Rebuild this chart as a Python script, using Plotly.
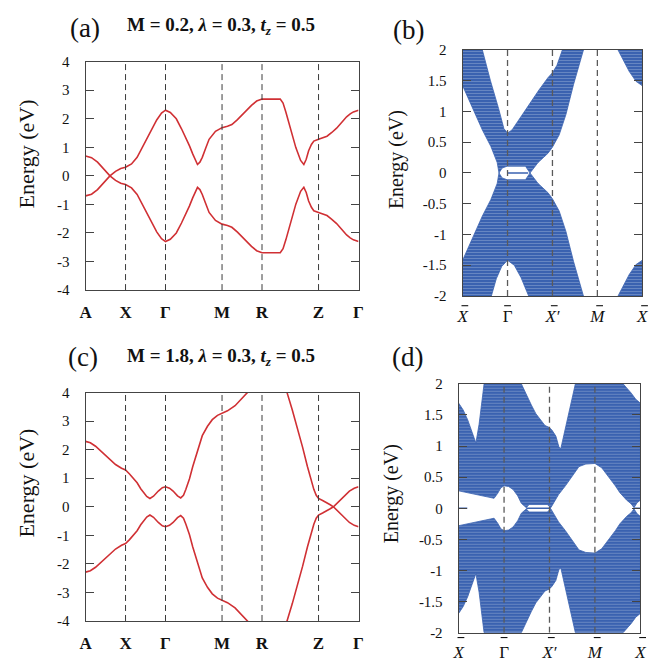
import plotly.graph_objects as go

# ---------------- bulk band structure: high-symmetry path ----------------
PATH_TICKS = [0, 1, 2, 3.414, 4.414, 5.828, 6.828]
PATH_LABELS = ["A", "X", "Γ", "M", "R", "Z", "Γ"]

# (a) M = 0.2 : the two bands along A-X-Γ-M-R-Z-Γ
A_K = [0.00, 0.15, 0.30, 0.45, 0.61, 0.75, 0.88, 1.00, 1.15, 1.29, 1.40, 1.53, 1.65, 1.78,
       1.90, 2.00, 2.12, 2.27, 2.40, 2.51, 2.60, 2.68, 2.74, 2.80, 2.86, 2.92, 3.00, 3.09,
       3.25, 3.414, 3.55, 3.66, 3.80, 3.91, 4.03, 4.15, 4.28, 4.414, 4.87, 4.94, 5.01, 5.13,
       5.26, 5.38, 5.46, 5.52, 5.58, 5.65, 5.71, 5.828, 5.95, 6.04, 6.16, 6.28, 6.40, 6.53,
       6.62, 6.70, 6.828]
A_BAND1 = [-0.70, -0.64, -0.48, -0.25, 0.00, 0.16, 0.26, 0.30, 0.42, 0.65, 0.95, 1.33, 1.65,
           1.96, 2.20, 2.30, 2.22, 2.00, 1.65, 1.33, 1.05, 0.77, 0.55, 0.40, 0.48, 0.65, 0.95,
           1.28, 1.56, 1.69, 1.74, 1.80, 1.97, 2.13, 2.30, 2.47, 2.62, 2.69, 2.69, 2.55, 2.24,
           1.67, 0.99, 0.54, 0.40, 0.58, 0.88, 1.10, 1.22, 1.28, 1.34, 1.39, 1.52, 1.67, 1.86,
           2.07, 2.17, 2.24, 2.30]
A_BAND2 = [0.70, 0.64, 0.48, 0.25, 0.00, -0.16, -0.26, -0.30, -0.42, -0.65, -0.95, -1.33, -1.65,
           -1.96, -2.20, -2.30, -2.22, -2.00, -1.65, -1.33, -1.05, -0.77, -0.55, -0.40, -0.48,
           -0.65, -0.95, -1.28, -1.56, -1.69, -1.74, -1.80, -1.97, -2.13, -2.30, -2.47, -2.62,
           -2.69, -2.69, -2.55, -2.24, -1.67, -0.99, -0.54, -0.40, -0.58, -0.88, -1.10, -1.22,
           -1.28, -1.34, -1.39, -1.52, -1.67, -1.86, -2.07, -2.17, -2.24, -2.30]

# (c) M = 1.8
C_K = [0.00, 0.12, 0.25, 0.50, 0.75, 0.90, 1.00, 1.10, 1.20, 1.29, 1.38, 1.45, 1.53, 1.61,
       1.70, 1.82, 1.92, 2.00, 2.10, 2.19, 2.30, 2.38, 2.45, 2.51, 2.60, 2.68, 2.80, 2.92,
       3.05, 3.17, 3.30, 3.414, 3.55, 3.74, 3.90, 4.05, 4.25, 4.414, 4.70, 4.85, 5.04, 5.17,
       5.30, 5.43, 5.55, 5.63, 5.71, 5.77, 5.828, 5.93, 6.03, 6.12, 6.20, 6.33, 6.45, 6.60,
       6.72, 6.828]
C_BAND1 = [2.29, 2.24, 2.12, 1.80, 1.48, 1.35, 1.29, 1.15, 0.98, 0.84, 0.63, 0.49, 0.36, 0.29,
           0.37, 0.55, 0.67, 0.70, 0.65, 0.55, 0.38, 0.31, 0.40, 0.61, 0.98, 1.40, 1.97, 2.49,
           2.82, 3.05, 3.20, 3.28, 3.36, 3.54, 3.77, 4.00, 4.30, 4.45, 4.45, 4.30, 4.00, 3.40,
           2.77, 2.08, 1.41, 1.00, 0.61, 0.40, 0.29, 0.22, 0.15, 0.07, 0.00, -0.18, -0.36,
           -0.55, -0.65, -0.70]
C_BAND2 = [-2.29, -2.24, -2.12, -1.80, -1.48, -1.35, -1.29, -1.15, -0.98, -0.84, -0.63, -0.49,
           -0.36, -0.29, -0.37, -0.55, -0.67, -0.70, -0.65, -0.55, -0.38, -0.31, -0.40, -0.61,
           -0.98, -1.40, -1.97, -2.49, -2.82, -3.05, -3.20, -3.28, -3.36, -3.54, -3.77, -4.00,
           -4.30, -4.45, -4.45, -4.30, -4.00, -3.40, -2.77, -2.08, -1.41, -1.00, -0.61, -0.40,
           -0.29, -0.22, -0.15, -0.07, 0.00, 0.18, 0.36, 0.55, 0.65, 0.70]

# ---------------- slab spectra: surface Brillouin zone path ----------------
SLAB_TICKS = [0, 1, 2, 3, 4]
SLAB_LABELS = ["<i>X</i>", "Γ", "<i>X′</i>", "<i>M</i>", "<i>X</i>"]

# (b) outlines of the continuum regions (k, E)
B_COND_K = [0.00, 0.20, 0.44, 0.63, 0.77, 0.81, 0.88, 0.99, 1.40, 1.50, 1.68, 1.90, 2.00, 2.15,
            2.30, 2.47, 2.69, 2.22, 2.10, 2.00, 1.90, 1.70, 1.45, 1.25, 1.10, 1.00, 0.92, 0.80,
            0.62, 0.44, 0.00]
B_COND_E = [1.42, 1.10, 0.70, 0.43, 0.17, 0.00, 0.08, 0.11, 0.11, 0.00, 0.17, 0.32, 0.42, 0.62,
            0.95, 1.44, 2.00, 2.00, 1.75, 1.63, 1.55, 1.35, 1.08, 0.85, 0.70, 0.65, 0.72, 1.05,
            1.50, 2.00, 2.00]
B_VAL_K = [0.00, 0.20, 0.44, 0.63, 0.77, 0.81, 0.88, 0.99, 1.40, 1.50, 1.68, 1.90, 2.00, 2.15,
           2.30, 2.47, 2.69, 1.47, 1.30, 1.15, 1.00, 0.87, 0.75, 0.64, 0.00]
B_VAL_E = [-1.42, -1.10, -0.70, -0.43, -0.17, 0.00, -0.08, -0.11, -0.11, 0.00, -0.17, -0.32,
           -0.42, -0.62, -0.95, -1.44, -2.00, -2.00, -1.70, -1.50, -1.42, -1.52, -1.72, -2.00,
           -2.00]
B_RIGHT_UP_K = [3.46, 3.60, 3.71, 3.86, 4.00, 4.00]
B_RIGHT_UP_E = [2.00, 1.80, 1.65, 1.49, 1.42, 2.00]
B_RIGHT_DN_K = [3.46, 3.60, 3.71, 3.86, 4.00, 4.00]
B_RIGHT_DN_E = [-2.00, -1.80, -1.65, -1.49, -1.42, -2.00]
B_SURF_K = [0.99, 1.46]
B_SURF_E = [0.0, 0.0]

# (d) outlines of the continuum regions (k, E)
D_UP_K = [0.00, 0.20, 0.37, 0.55, 0.66, 0.78, 0.86, 0.93, 1.00, 1.10, 1.20, 1.30, 1.38, 1.49,
          1.55, 1.95, 2.03, 2.12, 2.20, 2.35, 2.45, 2.55, 2.65, 2.80, 3.00, 3.15, 3.30, 3.45,
          3.55, 3.70, 3.80, 3.86, 3.93, 4.00,
          4.00, 3.90, 3.80, 3.70, 3.62, 2.57, 2.50, 2.39, 2.30, 2.25, 2.21, 2.14, 2.05, 1.99,
          1.90, 1.82, 1.70, 1.60, 1.48, 1.38, 0.56, 0.50, 0.45, 0.38, 0.30, 0.20, 0.10, 0.00]
D_UP_E = [0.28, 0.25, 0.22, 0.19, 0.17, 0.16, 0.24, 0.33, 0.36, 0.35, 0.30, 0.20, 0.08, 0.01,
          0.06, 0.06, 0.01, 0.12, 0.22, 0.36, 0.46, 0.58, 0.67, 0.71, 0.72, 0.65, 0.51, 0.36,
          0.25, 0.13, 0.07, 0.01, 0.09, 0.13,
          1.69, 1.75, 1.85, 1.93, 2.00, 2.00, 1.77, 1.40, 1.12, 0.96, 0.98, 1.16, 1.26, 1.30,
          1.33, 1.40, 1.52, 1.66, 1.84, 2.00, 2.00, 1.65, 1.35, 1.05, 1.22, 1.42, 1.58, 1.69]
D_DN_K = [0.00, 0.20, 0.37, 0.55, 0.66, 0.78, 0.86, 0.93, 1.00, 1.10, 1.20, 1.30, 1.38, 1.49,
          1.55, 1.95, 2.03, 2.12, 2.20, 2.35, 2.45, 2.55, 2.65, 2.80, 3.00, 3.15, 3.30, 3.45,
          3.55, 3.70, 3.80, 3.86, 3.93, 4.00,
          4.00, 3.90, 3.80, 3.70, 3.62, 2.57, 2.50, 2.39, 2.30, 2.25, 2.21, 2.14, 2.05, 1.99,
          1.90, 1.82, 1.70, 1.60, 1.48, 1.38, 0.56, 0.50, 0.45, 0.38, 0.30, 0.20, 0.10, 0.00]
D_DN_E = [-0.28, -0.25, -0.22, -0.19, -0.17, -0.16, -0.24, -0.33, -0.36, -0.35, -0.30, -0.20,
          -0.08, -0.01, -0.06, -0.06, -0.01, -0.12, -0.22, -0.36, -0.46, -0.58, -0.67, -0.71,
          -0.72, -0.65, -0.51, -0.36, -0.25, -0.13, -0.07, -0.01, -0.09, -0.13,
          -1.69, -1.75, -1.85, -1.93, -2.00, -2.00, -1.77, -1.40, -1.12, -0.96, -0.98, -1.16,
          -1.26, -1.30, -1.33, -1.40, -1.52, -1.66, -1.84, -2.00, -2.00, -1.65, -1.35, -1.05,
          -1.22, -1.42, -1.58, -1.69]
D_SURF_SEGMENTS = [([0.00, 0.19], [0.0, 0.0]), ([1.49, 2.03], [0.0, 0.0]), ([3.86, 4.00], [0.0, 0.0])]

# ---------------- styling ----------------
SERIF = "Liberation Serif, Times New Roman, Times, serif"
RED = "rgb(208,48,52)"
BLUE = "rgb(58,98,176)"
FRAME = "#444444"

DOM_A_X, DOM_A_Y = [0.1222, 0.5415], [0.5680, 0.9178]
DOM_B_X, DOM_B_Y = [0.7014, 0.9774], [0.5590, 0.9357]
DOM_C_X, DOM_C_Y = [0.1222, 0.5415], [0.0613, 0.4111]
DOM_D_X, DOM_D_Y = [0.6953, 0.9744], [0.0433, 0.4245]

fig = go.Figure()

def red_band(k, e, xa, ya):
    fig.add_trace(go.Scatter(x=k, y=e, mode="lines", xaxis=xa, yaxis=ya,
                             line=dict(color=RED, width=1.6), hoverinfo="skip", showlegend=False))

def region(k, e, xa, ya):
    # densely stacked slab subbands, rendered as a finely striped fill
    fig.add_trace(go.Scatter(x=k, y=e, mode="lines", fill="toself", xaxis=xa, yaxis=ya,
                             fillcolor=BLUE,
                             fillpattern=dict(shape="-", bgcolor=BLUE, fgcolor="white",
                                              fgopacity=0.25, size=3, solidity=0.3),
                             line=dict(color=BLUE, width=0.8),
                             hoverinfo="skip", showlegend=False))

def surface(k, e, xa, ya):
    fig.add_trace(go.Scatter(x=k, y=e, mode="lines", xaxis=xa, yaxis=ya,
                             line=dict(color=BLUE, width=1.5), hoverinfo="skip", showlegend=False))

red_band(A_K, A_BAND1, "x", "y")
red_band(A_K, A_BAND2, "x", "y")
red_band(C_K, C_BAND1, "x3", "y3")
red_band(C_K, C_BAND2, "x3", "y3")

region(B_COND_K, B_COND_E, "x2", "y2")
region(B_VAL_K, B_VAL_E, "x2", "y2")
region(B_RIGHT_UP_K, B_RIGHT_UP_E, "x2", "y2")
region(B_RIGHT_DN_K, B_RIGHT_DN_E, "x2", "y2")
surface(B_SURF_K, B_SURF_E, "x2", "y2")

region(D_UP_K, D_UP_E, "x4", "y4")
region(D_DN_K, D_DN_E, "x4", "y4")
for sk, se in D_SURF_SEGMENTS:
    surface(sk, se, "x4", "y4")

# dashed guides at the interior high-symmetry points
shapes = []
for kv in PATH_TICKS[1:-1]:
    for xr, yr in (("x", "y"), ("x3", "y3")):
        shapes.append(dict(type="line", xref=xr, yref=yr, x0=kv, x1=kv, y0=-4, y1=4,
                           line=dict(color="#3a3a3a", width=1, dash="6px,4px"), layer="above"))
for kv in SLAB_TICKS[1:-1]:
    for xr, yr in (("x2", "y2"), ("x4", "y4")):
        shapes.append(dict(type="line", xref=xr, yref=yr, x0=kv, x1=kv, y0=-2, y1=2,
                           line=dict(color="#5a5a5a", width=1.3, dash="6px,4px"), layer="above"))

# macron bars over the surface-zone labels (placed through each panel's x domain)
BAR_SHIFT = [0.05, 0.0, 0.04, 0.05, 0.05]
BAR_HALF = 0.075
for dom, ybar in ((DOM_B_X, 0.5441), (DOM_D_X, 0.0359)):
    span = dom[1] - dom[0]
    for kv, sh in zip(SLAB_TICKS, BAR_SHIFT):
        xa = dom[0] + (kv + sh - BAR_HALF) / 4 * span
        xb = dom[0] + (kv + sh + BAR_HALF) / 4 * span
        shapes.append(dict(type="line", xref="paper", yref="paper", x0=xa, x1=xb,
                           y0=ybar, y1=ybar, line=dict(color="#111", width=1.1)))

tickfont = dict(family=SERIF, size=15, color="#111")

def xaxis_cfg(domain, rng, tv, tt, anchor, standoff, size):
    return dict(domain=domain, range=rng, anchor=anchor, showline=True, mirror=True,
                linecolor=FRAME, linewidth=1, showgrid=False, zeroline=False, ticks="",
                tickvals=tv, ticktext=tt, tickfont=dict(family=SERIF, size=size, color="#111"),
                ticklabelstandoff=standoff, fixedrange=True)

def yaxis_cfg(domain, rng, tv, tt, anchor):
    return dict(domain=domain, range=rng, anchor=anchor, showline=True, mirror="ticks",
                linecolor=FRAME, linewidth=1, showgrid=False, zeroline=False, ticks="inside",
                ticklen=8, tickcolor=FRAME, tickvals=tv, ticktext=tt, tickfont=tickfont,
                ticklabelstandoff=12, fixedrange=True)

bulk_y = [-4, -3, -2, -1, 0, 1, 2, 3, 4]
bulk_yt = ["-4", "-3", "-2", "-1", "0", "1", "2", "3", "4"]
slab_y = [-2, -1.5, -1, -0.5, 0, 0.5, 1, 1.5, 2]
slab_yt = ["-2", "-1.5", "-1", "-0.5", "0", "0.5", "1", "1.5", "2"]
bold_path = ["<b>%s</b>" % s for s in PATH_LABELS]

fig.update_layout(
    width=663, height=669, margin=dict(l=0, r=0, t=0, b=0),
    paper_bgcolor="white", plot_bgcolor="white", showlegend=False,
    xaxis=xaxis_cfg(DOM_A_X, [0, 6.828], PATH_TICKS, bold_path, "y", 7, 17),
    yaxis=yaxis_cfg(DOM_A_Y, [-4, 4], bulk_y, bulk_yt, "x"),
    xaxis2=xaxis_cfg(DOM_B_X, [0, 4], SLAB_TICKS, SLAB_LABELS, "y2", 5, 17),
    yaxis2=yaxis_cfg(DOM_B_Y, [-2, 2], slab_y, slab_yt, "x2"),
    xaxis3=xaxis_cfg(DOM_C_X, [0, 6.828], PATH_TICKS, bold_path, "y3", 7, 17),
    yaxis3=yaxis_cfg(DOM_C_Y, [-4, 4], bulk_y, bulk_yt, "x3"),
    xaxis4=xaxis_cfg(DOM_D_X, [0, 4], SLAB_TICKS, SLAB_LABELS, "y4", 4, 17),
    yaxis4=yaxis_cfg(DOM_D_Y, [-2, 2], slab_y, slab_yt, "x4"),
    shapes=shapes,
)

def note(text, x, y, size, angle=0):
    fig.add_annotation(text=text, x=x, y=y, xref="paper", yref="paper", showarrow=False,
                       xanchor="center", yanchor="middle", textangle=angle,
                       font=dict(family=SERIF, size=size, color="#111"))

note("(a)", 0.122, 0.970, 27)
note("<b>M = 0.2, <i>λ</i> = 0.3, <i>t<sub>z</sub></i> = 0.5</b>", 0.330, 0.973, 19)
note("(b)", 0.618, 0.966, 27)
note("(c)", 0.118, 0.465, 27)
note("<b>M = 1.8, <i>λ</i> = 0.3, <i>t<sub>z</sub></i> = 0.5</b>", 0.330, 0.466, 19)
note("(d)", 0.616, 0.465, 27)

note("Energy (eV)", 0.031, 0.776, 22, angle=-90)
note("Energy (eV)", 0.600, 0.768, 20, angle=-90)
note("Energy (eV)", 0.031, 0.272, 22, angle=-90)
note("Energy (eV)", 0.592, 0.256, 20, angle=-90)

fig.write_html("out.html")
